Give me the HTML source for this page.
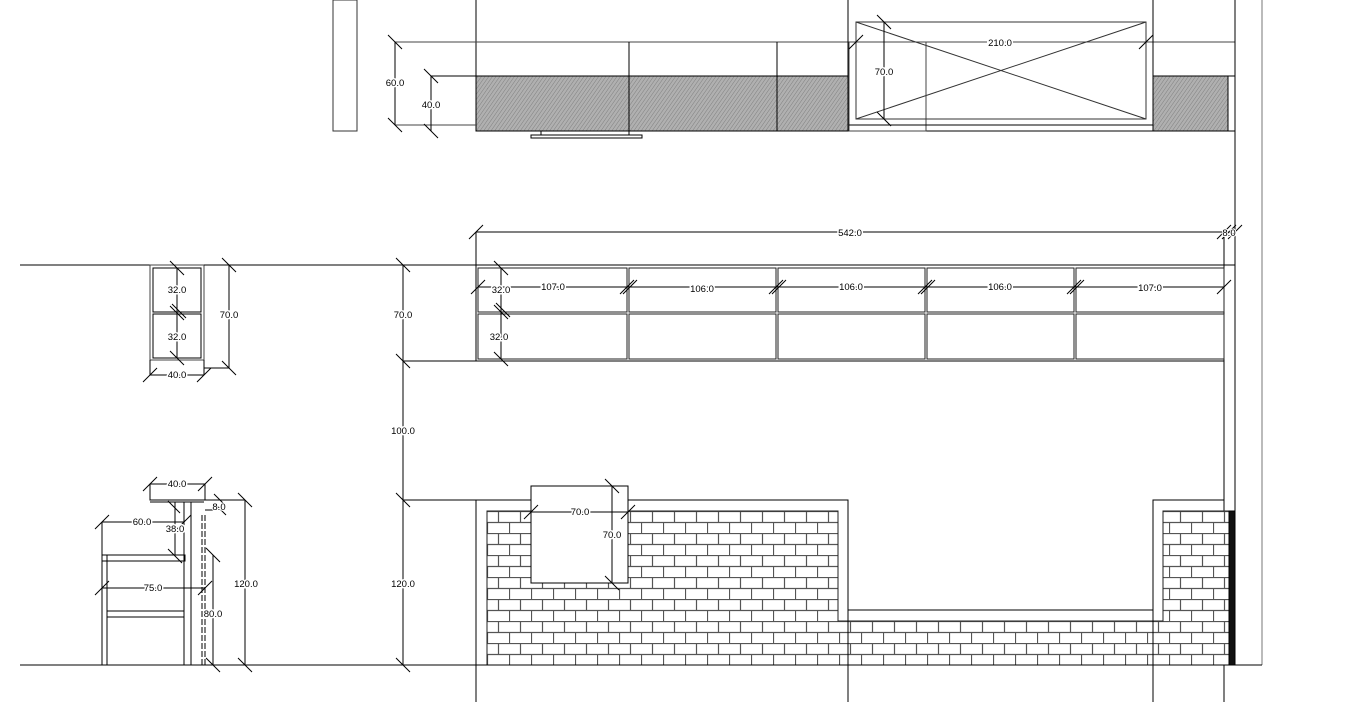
<!DOCTYPE html>
<html><head><meta charset="utf-8"><style>
html,body{margin:0;padding:0;background:#fff;}
svg{display:block;}
text{font-family:"Liberation Sans",sans-serif;font-size:9.5px;fill:#000;}
</style></head><body>
<svg width="1350" height="702" viewBox="0 0 1350 702" xmlns="http://www.w3.org/2000/svg">
<defs>
<pattern id="hatch" patternUnits="userSpaceOnUse" width="3" height="3" patternTransform="rotate(35)">
<rect width="3" height="3" fill="#b0b0b0"/><line x1="0" y1="0" x2="0" y2="3" stroke="#808080" stroke-width="1"/>
</pattern>
<pattern id="brick" patternUnits="userSpaceOnUse" x="487" y="511" width="22" height="22">
<rect width="22" height="22" fill="#fff"/>
<line x1="0" y1="0.5" x2="22" y2="0.5" stroke="#555" stroke-width="1.2"/>
<line x1="0" y1="11.5" x2="22" y2="11.5" stroke="#555" stroke-width="1.2"/>
<line x1="11.5" y1="0" x2="11.5" y2="11" stroke="#555" stroke-width="1.2"/>
<line x1="0.5" y1="11" x2="0.5" y2="22" stroke="#555" stroke-width="1.2"/>
</pattern>
</defs>
<g stroke="#000" stroke-width="1" fill="none">
<!-- TOP SECTION -->
<rect x="333" y="0" width="24" height="131" stroke="#333"/>
<line x1="476" y1="0" x2="476" y2="131"/>
<line x1="395" y1="42" x2="1235" y2="42" stroke="#444"/>
<rect x="476" y="76" width="153" height="55" fill="url(#hatch)"/>
<rect x="629" y="76" width="148" height="55" fill="url(#hatch)"/>
<rect x="777" y="76" width="71" height="55" fill="url(#hatch)"/>
<rect x="1153" y="76" width="75" height="55" fill="url(#hatch)"/>
<line x1="431" y1="76" x2="476" y2="76"/>
<line x1="395" y1="125" x2="476" y2="125" stroke="#444"/>
<line x1="476" y1="131" x2="1235" y2="131"/>
<line x1="629" y1="42" x2="629" y2="131"/>
<line x1="777" y1="42" x2="777" y2="131"/>
<line x1="848" y1="0" x2="848" y2="131"/>
<line x1="1153" y1="0" x2="1153" y2="131"/>
<rect x="849" y="42" width="77" height="89" stroke="#444"/>
<line x1="849" y1="125" x2="1153" y2="125"/>
<rect x="856" y="22" width="290" height="97" stroke="#333"/>
<line x1="856" y1="22" x2="1146" y2="119" stroke="#333"/>
<line x1="856" y1="119" x2="1146" y2="22" stroke="#333"/>
<line x1="884" y1="22" x2="884" y2="119"/>
<rect x="531" y="135" width="111" height="3"/>
<line x1="541" y1="131" x2="541" y2="135"/><line x1="629" y1="131" x2="629" y2="135"/>
<line x1="1235" y1="0" x2="1235" y2="665"/>
<line x1="1262" y1="0" x2="1262" y2="665" stroke="#777"/>
<line x1="1228" y1="76" x2="1235" y2="76"/>
<line x1="395" y1="42" x2="395" y2="125"/>
<line x1="431" y1="76" x2="431" y2="131"/>
<line x1="388" y1="35" x2="402" y2="49"/><line x1="388" y1="118" x2="402" y2="132"/>
<line x1="424" y1="69" x2="438" y2="83"/><line x1="424" y1="124" x2="438" y2="138"/>
<line x1="877" y1="15" x2="891" y2="29"/><line x1="877" y1="112" x2="891" y2="126"/>
<line x1="849" y1="49" x2="863" y2="35"/><line x1="1139" y1="49" x2="1153" y2="35"/>

<!-- MIDDLE SECTION -->
<line x1="20" y1="265" x2="1235" y2="265"/>
<line x1="476" y1="232" x2="1230" y2="232"/>
<line x1="476" y1="232" x2="476" y2="361"/>
<line x1="1224" y1="232" x2="1224" y2="702"/>
<line x1="469" y1="239" x2="483" y2="225"/>
<line x1="1217" y1="239" x2="1231" y2="225"/><line x1="1222" y1="239" x2="1236" y2="225"/><line x1="1228" y1="239" x2="1242" y2="225"/>
<g stroke="#222">
<rect x="478" y="268" width="149" height="44"/><rect x="478" y="314" width="149" height="45"/>
<rect x="629" y="268" width="147" height="44"/><rect x="629" y="314" width="147" height="45"/>
<rect x="778" y="268" width="147" height="44"/><rect x="778" y="314" width="147" height="45"/>
<rect x="927" y="268" width="147" height="44"/><rect x="927" y="314" width="147" height="45"/>
<rect x="1076" y="268" width="148" height="44"/><rect x="1076" y="314" width="148" height="45"/>
</g>
<line x1="403" y1="361" x2="1224" y2="361"/>
<line x1="403" y1="265" x2="403" y2="665"/>
<line x1="403" y1="500" x2="476" y2="500"/>
<line x1="396" y1="258" x2="410" y2="272"/><line x1="396" y1="354" x2="410" y2="368"/>
<line x1="396" y1="493" x2="410" y2="507"/><line x1="396" y1="658" x2="410" y2="672"/>
<line x1="478" y1="287" x2="1224" y2="287"/>
<line x1="471" y1="294" x2="485" y2="280"/>
<line x1="620" y1="294" x2="634" y2="280"/><line x1="623" y1="294" x2="637" y2="280"/>
<line x1="769" y1="294" x2="783" y2="280"/><line x1="772" y1="294" x2="786" y2="280"/>
<line x1="918" y1="294" x2="932" y2="280"/><line x1="921" y1="294" x2="935" y2="280"/>
<line x1="1067" y1="294" x2="1081" y2="280"/><line x1="1070" y1="294" x2="1084" y2="280"/>
<line x1="1217" y1="294" x2="1231" y2="280"/>
<line x1="501" y1="268" x2="501" y2="359"/>
<line x1="494" y1="261" x2="508" y2="275"/><line x1="494" y1="305" x2="508" y2="319"/><line x1="496" y1="303" x2="510" y2="317"/><line x1="494" y1="352" x2="508" y2="366"/>

<!-- small cabinet -->
<rect x="150" y="265" width="54" height="95" stroke="#444"/>
<rect x="153" y="268" width="48" height="44"/><rect x="153" y="314" width="48" height="44"/>
<line x1="177" y1="268" x2="177" y2="358"/>
<line x1="170" y1="261" x2="184" y2="275"/><line x1="170" y1="306" x2="184" y2="320"/><line x1="172" y1="304" x2="186" y2="318"/><line x1="170" y1="351" x2="184" y2="365"/>
<line x1="204" y1="265" x2="229" y2="265"/><line x1="204" y1="368" x2="229" y2="368"/>
<line x1="229" y1="265" x2="229" y2="368"/>
<line x1="222" y1="258" x2="236" y2="272"/><line x1="222" y1="361" x2="236" y2="375"/>
<line x1="150" y1="360" x2="150" y2="375"/><line x1="204" y1="360" x2="204" y2="375"/>
<line x1="150" y1="375" x2="204" y2="375"/>
<line x1="143" y1="382" x2="157" y2="368"/><line x1="197" y1="382" x2="211" y2="368"/>

<!-- CHAIR -->
<line x1="20" y1="665" x2="476" y2="665"/>
<rect x="150" y="484" width="55" height="16"/>
<line x1="150" y1="502" x2="204" y2="502"/>
<rect x="102" y="555" width="5" height="110"/>
<rect x="102" y="555" width="83" height="6"/>
<rect x="107" y="611" width="77" height="6"/>
<line x1="184" y1="502" x2="184" y2="665"/>
<line x1="191" y1="502" x2="191" y2="665"/>
<line x1="175" y1="502" x2="175" y2="555"/>
<line x1="202" y1="515" x2="202" y2="665" stroke-dasharray="6,2"/>
<line x1="205" y1="515" x2="205" y2="665" stroke-dasharray="6,2"/>
<line x1="213" y1="555" x2="213" y2="665"/>
<line x1="205" y1="500" x2="245" y2="500"/>
<line x1="245" y1="500" x2="245" y2="665"/>
<line x1="238" y1="493" x2="252" y2="507"/><line x1="238" y1="658" x2="252" y2="672"/>
<line x1="143" y1="491" x2="157" y2="477"/><line x1="198" y1="491" x2="212" y2="477"/>
<line x1="205" y1="510" x2="213" y2="510"/>
<line x1="214" y1="494" x2="224" y2="504"/><line x1="215" y1="504" x2="226" y2="515"/>
<line x1="102" y1="522" x2="184" y2="522"/><line x1="102" y1="522" x2="102" y2="555"/>
<line x1="95" y1="529" x2="109" y2="515"/><line x1="177" y1="529" x2="191" y2="515"/>
<line x1="168" y1="501" x2="180" y2="513"/><line x1="168" y1="549" x2="182" y2="563"/>
<line x1="102" y1="588" x2="205" y2="588"/>
<line x1="95" y1="595" x2="109" y2="581"/><line x1="198" y1="595" x2="212" y2="581"/>
<line x1="206" y1="548" x2="220" y2="562"/><line x1="206" y1="658" x2="220" y2="672"/>

<!-- BOTTOM WALL -->
<path d="M487 511 H838 V621 H1163 V511 H1229 V665 H487 Z" fill="url(#brick)" stroke="#222"/>
<path d="M476 500 H848 V610 H1153 V500 H1224" />
<line x1="476" y1="500" x2="476" y2="702"/>
<line x1="848" y1="610" x2="848" y2="702"/>
<line x1="1153" y1="610" x2="1153" y2="702"/>
<rect x="1229" y="511" width="6" height="154" fill="#111"/>
<line x1="333" y1="665" x2="1262" y2="665"/>
<rect x="531" y="486" width="97" height="97" fill="#fff"/>
<line x1="531" y1="512" x2="628" y2="512"/>
<line x1="524" y1="519" x2="538" y2="505"/><line x1="621" y1="519" x2="635" y2="505"/>
<line x1="612" y1="486" x2="612" y2="583"/>
<line x1="605" y1="479" x2="619" y2="493"/><line x1="605" y1="576" x2="619" y2="590"/>
</g>

<g text-anchor="middle">
<text x="395" y="86" style="paint-order:stroke" stroke="#fff" stroke-width="3">60.0</text>
<text x="431" y="108" style="paint-order:stroke" stroke="#fff" stroke-width="3">40.0</text>
<text x="884" y="75" style="paint-order:stroke" stroke="#fff" stroke-width="3">70.0</text>
<text x="1000" y="46" style="paint-order:stroke" stroke="#fff" stroke-width="3">210.0</text>
<text x="850" y="236" style="paint-order:stroke" stroke="#fff" stroke-width="3">542.0</text>
<text x="1229" y="236" style="paint-order:stroke" stroke="#fff" stroke-width="2">8.0</text>
<text x="553" y="290" style="paint-order:stroke" stroke="#fff" stroke-width="3">107.0</text>
<text x="702" y="292" style="paint-order:stroke" stroke="#fff" stroke-width="3">106.0</text>
<text x="851" y="290" style="paint-order:stroke" stroke="#fff" stroke-width="3">106.0</text>
<text x="1000" y="290" style="paint-order:stroke" stroke="#fff" stroke-width="3">106.0</text>
<text x="1150" y="291" style="paint-order:stroke" stroke="#fff" stroke-width="3">107.0</text>
<text x="501" y="293" style="paint-order:stroke" stroke="#fff" stroke-width="3">32.0</text>
<text x="499" y="340" style="paint-order:stroke" stroke="#fff" stroke-width="3">32.0</text>
<text x="403" y="318" style="paint-order:stroke" stroke="#fff" stroke-width="3">70.0</text>
<text x="403" y="434" style="paint-order:stroke" stroke="#fff" stroke-width="3">100.0</text>
<text x="403" y="587" style="paint-order:stroke" stroke="#fff" stroke-width="3">120.0</text>
<text x="177" y="293" style="paint-order:stroke" stroke="#fff" stroke-width="3">32.0</text>
<text x="177" y="340" style="paint-order:stroke" stroke="#fff" stroke-width="3">32.0</text>
<text x="229" y="318" style="paint-order:stroke" stroke="#fff" stroke-width="3">70.0</text>
<text x="177" y="378" style="paint-order:stroke" stroke="#fff" stroke-width="3">40.0</text>
<text x="177" y="487" style="paint-order:stroke" stroke="#fff" stroke-width="3">40.0</text>
<text x="219" y="510" style="paint-order:stroke" stroke="#fff" stroke-width="2">8.0</text>
<text x="142" y="525" style="paint-order:stroke" stroke="#fff" stroke-width="3">60.0</text>
<text x="175" y="532" style="paint-order:stroke" stroke="#fff" stroke-width="3">38.0</text>
<text x="153" y="591" style="paint-order:stroke" stroke="#fff" stroke-width="3">75.0</text>
<text x="246" y="587" style="paint-order:stroke" stroke="#fff" stroke-width="3">120.0</text>
<text x="213" y="617" style="paint-order:stroke" stroke="#fff" stroke-width="3">80.0</text>
<text x="580" y="515" style="paint-order:stroke" stroke="#fff" stroke-width="3">70.0</text>
<text x="612" y="538" style="paint-order:stroke" stroke="#fff" stroke-width="3">70.0</text>
</g>
</svg>
</body></html>
